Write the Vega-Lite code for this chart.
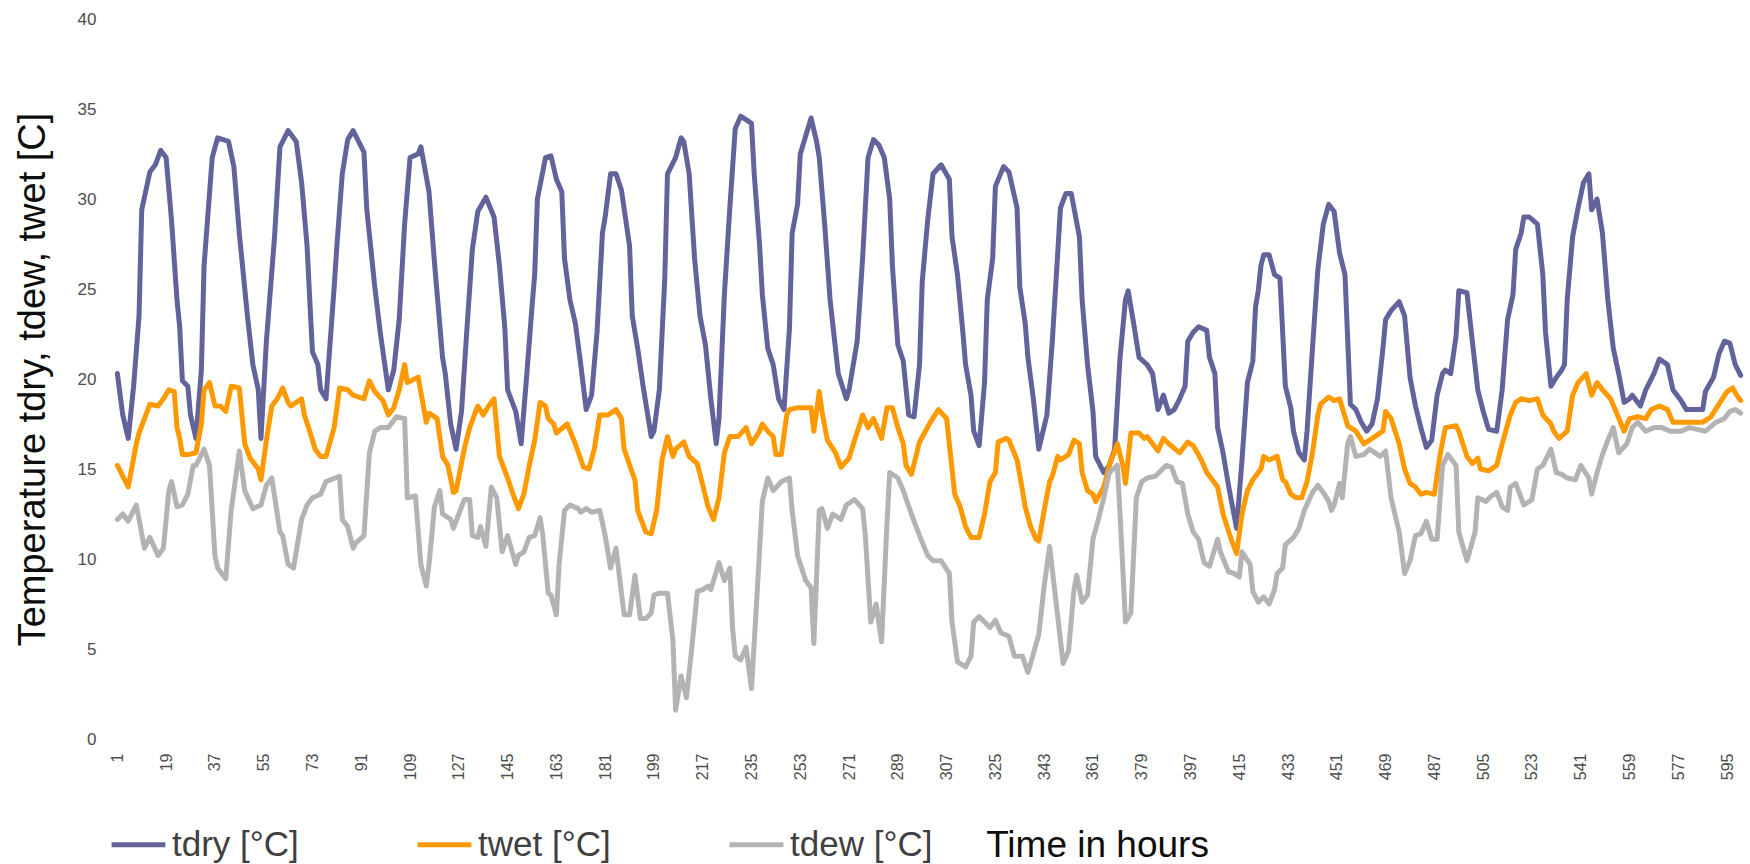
{
  "$schema": "https://vega.github.io/schema/vega-lite/v6.json",
  "width": 1626,
  "height": 720,
  "autosize": {"type": "none"},
  "padding": {"left": 116, "top": 19, "right": 8, "bottom": 125},
  "background": "white",
  "config": {
    "view": {"stroke": null},
    "font": "Liberation Sans"
  },
  "datasets": {
    "tdry": [
      {"h":1,"v":20.3},{"h":3,"v":18.0},{"h":5,"v":16.7},{"h":7,"v":19.6},{"h":9,"v":23.5},{"h":10,"v":29.4},{"h":13,"v":31.5},{"h":15,"v":31.9},{"h":17,"v":32.7},{"h":19,"v":32.3},{"h":21,"v":28.8},{"h":23,"v":24.4},{"h":24,"v":22.9},{"h":25,"v":19.9},{"h":27,"v":19.6},{"h":28,"v":18.0},{"h":30,"v":16.7},{"h":32,"v":20.5},{"h":33,"v":26.3},{"h":36,"v":32.3},{"h":38,"v":33.4},{"h":42,"v":33.2},{"h":44,"v":31.8},{"h":46,"v":28.1},{"h":49,"v":23.5},{"h":51,"v":20.8},{"h":53,"v":19.4},{"h":54,"v":16.7},{"h":56,"v":22.1},{"h":59,"v":27.9},{"h":61,"v":32.9},{"h":64,"v":33.8},{"h":67,"v":33.2},{"h":69,"v":30.9},{"h":71,"v":27.4},
      {"h":72,"v":24.4},{"h":73,"v":21.5},{"h":75,"v":20.8},{"h":76,"v":19.4},{"h":78,"v":18.9},{"h":81,"v":25.1},{"h":82,"v":27.4},{"h":84,"v":31.4},{"h":86,"v":33.3},{"h":88,"v":33.8},{"h":92,"v":32.6},{"h":93,"v":29.5},{"h":96,"v":25.1},{"h":98,"v":22.6},{"h":101,"v":19.4},{"h":103,"v":20.5},{"h":105,"v":23.3},{"h":107,"v":28.6},{"h":109,"v":32.3},{"h":112,"v":32.5},{"h":113,"v":32.9},{"h":116,"v":30.4},{"h":118,"v":26.5},{"h":121,"v":21.2},{"h":122,"v":20.3},{"h":124,"v":17.5},{"h":126,"v":16.1},{"h":128,"v":18.2},{"h":130,"v":22.8},{"h":132,"v":27.2},{"h":134,"v":29.3},{"h":137,"v":30.1},{"h":140,"v":29.0},{"h":142,"v":26.3},{"h":144,"v":22.8},{"h":145,"v":19.4},{"h":148,"v":18.2},{"h":150,"v":16.4},
      {"h":152,"v":20.1},{"h":154,"v":24.0},{"h":155,"v":25.8},{"h":156,"v":30.0},{"h":159,"v":32.3},{"h":161,"v":32.4},{"h":163,"v":31.1},{"h":165,"v":30.4},{"h":166,"v":26.7},{"h":168,"v":24.4},{"h":170,"v":23.1},{"h":172,"v":20.8},{"h":174,"v":18.3},{"h":176,"v":19.1},{"h":178,"v":22.6},{"h":180,"v":28.1},{"h":181,"v":29.0},{"h":183,"v":31.4},{"h":185,"v":31.4},{"h":187,"v":30.5},{"h":190,"v":27.4},{"h":191,"v":23.5},{"h":193,"v":21.7},{"h":195,"v":19.6},{"h":198,"v":16.8},{"h":199,"v":17.1},{"h":201,"v":19.4},{"h":203,"v":25.6},{"h":204,"v":31.4},{"h":207,"v":32.3},{"h":209,"v":33.4},{"h":210,"v":33.2},{"h":212,"v":31.4},{"h":214,"v":26.7},{"h":216,"v":23.5},{"h":218,"v":21.9},{"h":220,"v":18.9},{"h":222,"v":16.4},{"h":223,"v":17.8},{"h":225,"v":24.7},
      {"h":227,"v":29.5},{"h":229,"v":33.9},{"h":231,"v":34.6},{"h":235,"v":34.2},{"h":236,"v":31.4},{"h":238,"v":27.4},{"h":239,"v":24.7},{"h":241,"v":21.7},{"h":243,"v":20.8},{"h":245,"v":18.9},{"h":247,"v":18.3},{"h":249,"v":22.8},{"h":250,"v":28.1},{"h":252,"v":29.7},{"h":253,"v":32.5},{"h":255,"v":33.5},{"h":257,"v":34.5},{"h":259,"v":33.2},{"h":260,"v":32.3},{"h":262,"v":28.6},{"h":264,"v":24.4},{"h":267,"v":20.3},{"h":270,"v":18.9},{"h":271,"v":19.4},{"h":274,"v":22.1},{"h":276,"v":26.7},{"h":278,"v":32.3},{"h":280,"v":33.3},{"h":282,"v":33.0},{"h":284,"v":32.3},{"h":286,"v":30.0},{"h":287,"v":26.3},{"h":289,"v":21.9},{"h":291,"v":21.0},{"h":293,"v":18.0},{"h":295,"v":17.9},{"h":297,"v":20.8},{"h":298,"v":25.4},{"h":300,"v":28.8},{"h":302,"v":31.4},{"h":305,"v":31.9},
      {"h":308,"v":31.1},{"h":309,"v":27.9},{"h":311,"v":25.8},{"h":313,"v":22.6},{"h":314,"v":20.8},{"h":316,"v":19.1},{"h":317,"v":17.1},{"h":319,"v":16.3},{"h":321,"v":19.8},{"h":322,"v":24.4},{"h":324,"v":26.7},{"h":325,"v":30.7},{"h":328,"v":31.8},{"h":330,"v":31.5},{"h":333,"v":29.5},{"h":334,"v":25.1},{"h":336,"v":23.1},{"h":337,"v":21.2},{"h":339,"v":18.9},{"h":341,"v":16.1},{"h":344,"v":18.0},{"h":346,"v":22.1},{"h":348,"v":27.0},{"h":349,"v":29.5},{"h":351,"v":30.3},{"h":353,"v":30.3},{"h":356,"v":27.9},{"h":357,"v":24.4},{"h":359,"v":20.8},{"h":361,"v":18.2},{"h":362,"v":15.7},{"h":365,"v":14.8},{"h":367,"v":15.2},{"h":369,"v":16.1},{"h":371,"v":21.2},{"h":373,"v":24.4},{"h":374,"v":24.9},{"h":376,"v":23.1},{"h":378,"v":21.2},{"h":381,"v":20.8},
      {"h":383,"v":20.3},{"h":385,"v":18.3},{"h":387,"v":19.1},{"h":389,"v":18.1},{"h":391,"v":18.3},{"h":393,"v":18.9},{"h":395,"v":19.6},{"h":396,"v":22.1},{"h":398,"v":22.6},{"h":400,"v":22.9},{"h":403,"v":22.7},{"h":404,"v":21.2},{"h":406,"v":20.3},{"h":407,"v":17.3},{"h":409,"v":15.9},{"h":411,"v":14.1},{"h":413,"v":12.5},{"h":414,"v":11.7},{"h":416,"v":15.5},{"h":418,"v":19.8},{"h":420,"v":21.0},{"h":421,"v":24.0},{"h":422,"v":24.9},{"h":423,"v":26.3},{"h":424,"v":26.9},{"h":426,"v":26.9},{"h":428,"v":25.8},{"h":430,"v":25.6},{"h":432,"v":19.6},{"h":434,"v":18.4},{"h":435,"v":17.1},{"h":437,"v":15.9},{"h":439,"v":15.5},{"h":440,"v":17.1},{"h":442,"v":21.7},{"h":444,"v":26.1},{"h":446,"v":28.6},{"h":448,"v":29.7},{"h":450,"v":29.3},{"h":452,"v":27.0},{"h":454,"v":25.8},{"h":456,"v":18.6},{"h":458,"v":18.3},
      {"h":460,"v":17.6},{"h":462,"v":17.1},{"h":464,"v":17.5},{"h":466,"v":18.9},{"h":468,"v":21.7},{"h":469,"v":23.3},{"h":471,"v":23.8},{"h":474,"v":24.3},{"h":476,"v":23.5},{"h":478,"v":20.1},{"h":480,"v":18.5},{"h":482,"v":17.3},{"h":484,"v":16.2},{"h":486,"v":16.6},{"h":488,"v":19.1},{"h":490,"v":20.3},{"h":491,"v":20.5},{"h":493,"v":20.3},{"h":495,"v":22.4},{"h":496,"v":24.9},{"h":499,"v":24.8},{"h":501,"v":22.1},{"h":503,"v":19.4},{"h":505,"v":18.2},{"h":507,"v":17.2},{"h":510,"v":17.1},{"h":512,"v":19.4},{"h":514,"v":23.3},{"h":516,"v":24.7},{"h":517,"v":27.2},{"h":519,"v":28.1},{"h":520,"v":29.0},{"h":522,"v":29.0},{"h":525,"v":28.6},{"h":527,"v":25.8},{"h":528,"v":22.6},{"h":530,"v":19.6},{"h":532,"v":20.1},
      {"h":534,"v":20.5},{"h":535,"v":20.8},{"h":536,"v":24.4},{"h":538,"v":27.9},{"h":540,"v":29.5},{"h":542,"v":30.9},{"h":544,"v":31.4},{"h":545,"v":29.4},{"h":547,"v":30.0},{"h":549,"v":28.1},{"h":551,"v":24.4},{"h":553,"v":21.7},{"h":555,"v":20.3},{"h":557,"v":18.7},{"h":559,"v":18.9},{"h":560,"v":19.1},{"h":563,"v":18.5},{"h":565,"v":19.4},{"h":568,"v":20.3},{"h":570,"v":21.1},{"h":573,"v":20.8},{"h":575,"v":19.4},{"h":578,"v":18.8},{"h":580,"v":18.3},{"h":586,"v":18.3},{"h":587,"v":19.3},{"h":590,"v":20.1},{"h":592,"v":21.4},{"h":594,"v":22.1},{"h":596,"v":22.0},{"h":598,"v":20.8},{"h":600,"v":20.2}
    ],
    "twet": [
      {"h":1,"v":15.2},{"h":3,"v":14.6},{"h":5,"v":14.0},{"h":8,"v":16.4},{"h":9,"v":17.0},{"h":11,"v":17.8},{"h":13,"v":18.6},{"h":16,"v":18.5},{"h":18,"v":18.9},{"h":20,"v":19.4},{"h":22,"v":19.3},{"h":23,"v":17.3},{"h":24,"v":16.7},{"h":25,"v":15.8},{"h":27,"v":15.8},{"h":30,"v":15.9},{"h":32,"v":17.5},{"h":33,"v":19.4},{"h":35,"v":19.8},{"h":37,"v":18.5},{"h":39,"v":18.5},{"h":41,"v":18.2},{"h":43,"v":19.6},{"h":46,"v":19.5},{"h":48,"v":16.4},{"h":50,"v":15.6},{"h":53,"v":15.0},{"h":54,"v":14.4},{"h":56,"v":16.6},{"h":58,"v":18.5},{"h":60,"v":18.9},{"h":62,"v":19.5},{"h":64,"v":18.7},{"h":65,"v":18.5},{"h":69,"v":18.9},{"h":70,"v":18.0},
      {"h":72,"v":17.1},{"h":74,"v":16.1},{"h":76,"v":15.7},{"h":78,"v":15.7},{"h":81,"v":17.3},{"h":83,"v":19.5},{"h":86,"v":19.4},{"h":88,"v":19.1},{"h":92,"v":18.9},{"h":94,"v":19.9},{"h":96,"v":19.3},{"h":99,"v":18.8},{"h":101,"v":18.0},{"h":103,"v":18.4},{"h":105,"v":19.4},{"h":107,"v":20.8},{"h":108,"v":19.8},{"h":112,"v":20.1},{"h":115,"v":17.6},{"h":116,"v":18.1},{"h":119,"v":17.8},{"h":121,"v":15.7},{"h":123,"v":15.2},{"h":125,"v":13.7},{"h":126,"v":13.8},{"h":129,"v":16.1},{"h":131,"v":17.3},{"h":134,"v":18.5},{"h":136,"v":18.0},{"h":138,"v":18.5},{"h":140,"v":18.9},{"h":142,"v":15.7},{"h":145,"v":14.5},{"h":147,"v":13.6},{"h":149,"v":12.8},
      {"h":151,"v":13.6},{"h":153,"v":15.2},{"h":155,"v":16.6},{"h":157,"v":18.7},{"h":159,"v":18.5},{"h":160,"v":17.8},{"h":162,"v":17.5},{"h":163,"v":17.0},{"h":167,"v":17.5},{"h":170,"v":16.4},{"h":173,"v":15.1},{"h":175,"v":15.0},{"h":177,"v":16.1},{"h":179,"v":18.0},{"h":182,"v":18.0},{"h":185,"v":18.3},{"h":187,"v":17.8},{"h":188,"v":16.1},{"h":191,"v":14.8},{"h":192,"v":14.4},{"h":193,"v":12.7},{"h":196,"v":11.5},{"h":198,"v":11.4},{"h":200,"v":12.7},{"h":202,"v":15.5},{"h":204,"v":16.8},{"h":206,"v":15.7},{"h":207,"v":16.1},{"h":210,"v":16.5},{"h":212,"v":15.7},{"h":215,"v":15.3},{"h":217,"v":14.1},{"h":219,"v":12.9},{"h":221,"v":12.2},{"h":223,"v":13.4},{"h":225,"v":15.9},{"h":227,"v":16.8},
      {"h":230,"v":16.8},{"h":233,"v":17.3},{"h":235,"v":16.4},{"h":238,"v":17.1},{"h":239,"v":17.5},{"h":241,"v":17.1},{"h":243,"v":16.8},{"h":244,"v":15.8},{"h":246,"v":15.8},{"h":248,"v":18.0},{"h":249,"v":18.3},{"h":252,"v":18.4},{"h":255,"v":18.4},{"h":257,"v":18.4},{"h":258,"v":17.1},{"h":260,"v":19.3},{"h":261,"v":18.2},{"h":263,"v":16.6},{"h":266,"v":15.9},{"h":268,"v":15.1},{"h":271,"v":15.6},{"h":273,"v":16.6},{"h":275,"v":17.5},{"h":276,"v":18.0},{"h":278,"v":17.3},{"h":280,"v":17.8},{"h":283,"v":16.7},{"h":285,"v":18.4},{"h":287,"v":18.4},{"h":289,"v":17.3},{"h":291,"v":16.4},{"h":292,"v":15.2},{"h":294,"v":14.7},{"h":297,"v":16.5},{"h":301,"v":17.6},{"h":304,"v":18.3},
      {"h":307,"v":17.8},{"h":310,"v":13.6},{"h":312,"v":12.9},{"h":314,"v":11.8},{"h":316,"v":11.2},{"h":319,"v":11.2},{"h":321,"v":12.5},{"h":323,"v":14.3},{"h":325,"v":14.8},{"h":326,"v":16.5},{"h":329,"v":16.7},{"h":330,"v":16.6},{"h":333,"v":15.5},{"h":335,"v":13.8},{"h":336,"v":12.9},{"h":338,"v":11.8},{"h":340,"v":11.1},{"h":341,"v":11.0},{"h":343,"v":12.7},{"h":345,"v":14.3},{"h":346,"v":14.6},{"h":348,"v":15.7},{"h":349,"v":15.5},{"h":352,"v":15.8},{"h":354,"v":16.6},{"h":356,"v":16.4},{"h":357,"v":14.8},{"h":359,"v":13.8},{"h":361,"v":13.6},{"h":362,"v":13.2},{"h":365,"v":14.0},{"h":367,"v":15.2},{"h":370,"v":16.4},{"h":372,"v":15.2},{"h":373,"v":14.2},{"h":375,"v":17.0},{"h":378,"v":17.0},{"h":380,"v":16.7},{"h":381,"v":16.8},
      {"h":383,"v":16.4},{"h":385,"v":16.0},{"h":387,"v":16.7},{"h":389,"v":16.4},{"h":393,"v":15.9},{"h":396,"v":16.5},{"h":398,"v":16.3},{"h":401,"v":15.5},{"h":403,"v":14.8},{"h":407,"v":14.0},{"h":409,"v":12.5},{"h":412,"v":11.1},{"h":414,"v":10.3},{"h":416,"v":12.5},{"h":418,"v":13.8},{"h":420,"v":14.4},{"h":423,"v":15.0},{"h":424,"v":15.7},{"h":426,"v":15.5},{"h":429,"v":15.7},{"h":431,"v":14.4},{"h":432,"v":14.3},{"h":434,"v":13.6},{"h":436,"v":13.4},{"h":438,"v":13.4},{"h":440,"v":14.3},{"h":442,"v":15.9},{"h":444,"v":18.0},{"h":445,"v":18.6},{"h":448,"v":19.0},{"h":450,"v":18.8},{"h":452,"v":18.9},{"h":455,"v":17.4},{"h":456,"v":17.3},{"h":458,"v":17.1},
      {"h":461,"v":16.4},{"h":464,"v":16.7},{"h":468,"v":17.1},{"h":469,"v":18.2},{"h":471,"v":17.8},{"h":474,"v":16.4},{"h":476,"v":15.0},{"h":478,"v":14.2},{"h":480,"v":14.0},{"h":482,"v":13.6},{"h":484,"v":13.7},{"h":487,"v":13.6},{"h":489,"v":15.7},{"h":491,"v":17.3},{"h":495,"v":17.4},{"h":496,"v":17.1},{"h":499,"v":15.7},{"h":501,"v":15.3},{"h":503,"v":15.6},{"h":504,"v":15.0},{"h":507,"v":14.9},{"h":510,"v":15.2},{"h":512,"v":16.4},{"h":515,"v":18.0},{"h":517,"v":18.7},{"h":519,"v":18.9},{"h":522,"v":18.8},{"h":525,"v":18.9},{"h":527,"v":18.0},{"h":530,"v":17.5},{"h":531,"v":17.1},
      {"h":533,"v":16.7},{"h":536,"v":17.1},{"h":538,"v":19.1},{"h":540,"v":19.8},{"h":543,"v":20.3},{"h":545,"v":19.1},{"h":547,"v":19.8},{"h":549,"v":19.4},{"h":552,"v":18.9},{"h":554,"v":18.2},{"h":557,"v":17.1},{"h":559,"v":17.8},{"h":562,"v":17.9},{"h":565,"v":17.8},{"h":567,"v":18.3},{"h":570,"v":18.5},{"h":573,"v":18.3},{"h":575,"v":17.6},{"h":578,"v":17.6},{"h":581,"v":17.6},{"h":586,"v":17.6},{"h":589,"v":17.9},{"h":592,"v":18.6},{"h":595,"v":19.3},{"h":597,"v":19.5},{"h":599,"v":19.0},{"h":600,"v":18.8}
    ],
    "tdew": [
      {"h":1,"v":12.2},{"h":3,"v":12.5},{"h":5,"v":12.1},{"h":8,"v":13.0},{"h":9,"v":12.2},{"h":11,"v":10.6},{"h":13,"v":11.2},{"h":16,"v":10.2},{"h":18,"v":10.6},{"h":20,"v":13.8},{"h":21,"v":14.3},{"h":23,"v":12.9},{"h":25,"v":13.0},{"h":27,"v":13.6},{"h":29,"v":15.2},{"h":30,"v":15.2},{"h":33,"v":16.1},{"h":35,"v":15.2},{"h":37,"v":10.2},{"h":38,"v":9.5},{"h":41,"v":8.9},{"h":43,"v":12.7},{"h":46,"v":16.0},{"h":48,"v":13.8},{"h":51,"v":12.8},{"h":54,"v":13.0},{"h":56,"v":14.1},{"h":58,"v":14.5},{"h":61,"v":11.5},{"h":62,"v":11.3},{"h":64,"v":9.7},{"h":66,"v":9.5},{"h":69,"v":12.2},{"h":71,"v":13.0},
      {"h":73,"v":13.4},{"h":76,"v":13.6},{"h":78,"v":14.3},{"h":83,"v":14.6},{"h":84,"v":12.2},{"h":86,"v":11.8},{"h":88,"v":10.6},{"h":89,"v":10.9},{"h":92,"v":11.3},{"h":94,"v":15.9},{"h":96,"v":17.1},{"h":98,"v":17.3},{"h":101,"v":17.3},{"h":104,"v":17.9},{"h":107,"v":17.8},{"h":108,"v":13.4},{"h":111,"v":13.5},{"h":113,"v":9.7},{"h":115,"v":8.5},{"h":116,"v":9.7},{"h":118,"v":12.9},{"h":120,"v":13.8},{"h":121,"v":12.5},{"h":124,"v":12.2},{"h":125,"v":11.7},{"h":127,"v":12.5},{"h":129,"v":13.3},{"h":131,"v":13.3},{"h":132,"v":11.3},{"h":134,"v":11.2},{"h":135,"v":11.8},{"h":137,"v":10.7},{"h":139,"v":14.0},{"h":141,"v":13.4},{"h":143,"v":10.4},{"h":145,"v":11.3},{"h":148,"v":9.7},{"h":149,"v":10.2},
      {"h":151,"v":10.4},{"h":153,"v":11.2},{"h":155,"v":11.3},{"h":157,"v":12.3},{"h":158,"v":11.3},{"h":160,"v":8.1},{"h":161,"v":8.0},{"h":163,"v":6.9},{"h":164,"v":9.7},{"h":166,"v":12.7},{"h":168,"v":13.0},{"h":171,"v":12.8},{"h":172,"v":12.6},{"h":174,"v":12.8},{"h":176,"v":12.6},{"h":179,"v":12.7},{"h":181,"v":11.3},{"h":183,"v":9.5},{"h":185,"v":10.6},{"h":188,"v":6.9},{"h":190,"v":6.9},{"h":192,"v":9.1},{"h":194,"v":6.7},{"h":196,"v":6.7},{"h":198,"v":7.0},{"h":199,"v":8.0},{"h":201,"v":8.1},{"h":204,"v":8.1},{"h":206,"v":5.5},{"h":207,"v":1.6},{"h":209,"v":3.5},{"h":211,"v":2.3},{"h":213,"v":5.1},{"h":215,"v":8.2},{"h":217,"v":8.3},{"h":219,"v":8.5},{"h":220,"v":8.3},{"h":222,"v":9.3},{"h":223,"v":9.8},{"h":225,"v":8.8},{"h":227,"v":9.5},
      {"h":228,"v":6.2},{"h":229,"v":4.6},{"h":231,"v":4.4},{"h":233,"v":5.1},{"h":235,"v":2.8},{"h":237,"v":7.9},{"h":239,"v":13.2},{"h":241,"v":14.5},{"h":243,"v":13.8},{"h":246,"v":14.3},{"h":249,"v":14.5},{"h":250,"v":12.7},{"h":252,"v":10.2},{"h":255,"v":8.8},{"h":257,"v":8.4},{"h":258,"v":5.3},{"h":260,"v":12.7},{"h":261,"v":12.8},{"h":263,"v":11.7},{"h":265,"v":12.5},{"h":268,"v":12.2},{"h":270,"v":13.0},{"h":273,"v":13.3},{"h":276,"v":12.8},{"h":277,"v":11.3},{"h":279,"v":6.5},{"h":281,"v":7.5},{"h":283,"v":5.4},{"h":285,"v":12.0},{"h":286,"v":14.8},{"h":289,"v":14.5},{"h":291,"v":13.8},{"h":294,"v":12.5},{"h":297,"v":11.3},{"h":300,"v":10.2},{"h":302,"v":9.9},{"h":305,"v":9.9},
      {"h":308,"v":9.2},{"h":309,"v":6.5},{"h":311,"v":4.3},{"h":314,"v":4.0},{"h":316,"v":4.6},{"h":317,"v":6.5},{"h":319,"v":6.8},{"h":321,"v":6.5},{"h":323,"v":6.2},{"h":325,"v":6.6},{"h":327,"v":5.9},{"h":330,"v":5.7},{"h":332,"v":4.6},{"h":335,"v":4.6},{"h":337,"v":3.7},{"h":338,"v":4.2},{"h":341,"v":5.8},{"h":343,"v":8.5},{"h":345,"v":10.7},{"h":347,"v":8.1},{"h":350,"v":4.2},{"h":352,"v":4.9},{"h":354,"v":8.3},{"h":355,"v":9.1},{"h":357,"v":7.6},{"h":359,"v":8.0},{"h":361,"v":11.1},{"h":363,"v":12.2},{"h":365,"v":13.4},{"h":367,"v":14.8},{"h":370,"v":15.2},{"h":371,"v":12.5},{"h":373,"v":6.5},{"h":375,"v":7.0},{"h":377,"v":13.4},{"h":379,"v":14.3},{"h":381,"v":14.5},
      {"h":384,"v":14.6},{"h":388,"v":15.2},{"h":390,"v":15.1},{"h":392,"v":14.3},{"h":394,"v":14.2},{"h":396,"v":12.5},{"h":398,"v":11.5},{"h":400,"v":11.1},{"h":402,"v":9.8},{"h":404,"v":9.6},{"h":407,"v":11.1},{"h":408,"v":10.4},{"h":411,"v":9.3},{"h":413,"v":9.2},{"h":415,"v":9.0},{"h":416,"v":10.4},{"h":419,"v":9.7},{"h":420,"v":8.2},{"h":422,"v":7.6},{"h":424,"v":7.9},{"h":426,"v":7.5},{"h":428,"v":8.3},{"h":429,"v":9.2},{"h":431,"v":9.5},{"h":432,"v":10.8},{"h":435,"v":11.2},{"h":437,"v":11.7},{"h":439,"v":12.7},{"h":442,"v":13.7},{"h":444,"v":14.1},{"h":446,"v":13.7},{"h":448,"v":13.2},{"h":449,"v":12.7},{"h":450,"v":13.0},{"h":452,"v":14.2},{"h":453,"v":13.4},{"h":455,"v":16.4},{"h":456,"v":16.8},{"h":458,"v":15.7},
      {"h":461,"v":15.8},{"h":463,"v":16.1},{"h":467,"v":15.7},{"h":469,"v":16.0},{"h":471,"v":13.4},{"h":474,"v":11.5},{"h":476,"v":9.2},{"h":478,"v":9.9},{"h":480,"v":11.3},{"h":482,"v":11.4},{"h":484,"v":12.1},{"h":486,"v":11.1},{"h":488,"v":11.1},{"h":490,"v":15.2},{"h":492,"v":15.8},{"h":495,"v":15.2},{"h":496,"v":11.5},{"h":499,"v":9.9},{"h":502,"v":11.5},{"h":503,"v":13.4},{"h":506,"v":13.2},{"h":508,"v":13.5},{"h":510,"v":13.7},{"h":512,"v":12.9},{"h":514,"v":12.7},{"h":515,"v":14.0},{"h":517,"v":14.2},{"h":520,"v":13.0},{"h":523,"v":13.3},{"h":525,"v":15.0},{"h":527,"v":15.2},{"h":530,"v":16.1},{"h":532,"v":14.8},
      {"h":534,"v":14.7},{"h":536,"v":14.5},{"h":539,"v":14.4},{"h":541,"v":15.2},{"h":544,"v":14.5},{"h":545,"v":13.6},{"h":547,"v":14.8},{"h":549,"v":15.8},{"h":551,"v":16.6},{"h":553,"v":17.3},{"h":555,"v":15.9},{"h":558,"v":16.4},{"h":560,"v":17.3},{"h":562,"v":17.6},{"h":565,"v":17.1},{"h":568,"v":17.3},{"h":571,"v":17.3},{"h":574,"v":17.1},{"h":578,"v":17.1},{"h":581,"v":17.3},{"h":584,"v":17.2},{"h":587,"v":17.1},{"h":591,"v":17.6},{"h":594,"v":17.8},{"h":596,"v":18.2},{"h":598,"v":18.3},{"h":600,"v":18.1}
    ]
  },
  "layer": [
    {
      "data": {"name": "tdry"},
      "mark": {"type": "line", "strokeWidth": 5, "strokeJoin": "round", "strokeCap": "round"},
      "encoding": {
        "x": {
          "field": "h", "type": "quantitative",
          "scale": {"domain": [0.5, 600.5], "nice": false, "zero": false},
          "axis": {
            "values": [1,19,37,55,73,91,109,127,145,163,181,199,217,235,253,271,289,307,325,343,361,379,397,415,433,451,469,487,505,523,541,559,577,595],
            "labelAngle": -90, "labelAlign": "right", "labelBaseline": "middle",
            "labelFontSize": 16, "labelColor": "#4d4d4d", "labelPadding": 14,
            "ticks": false, "domain": false, "grid": false,
            "title": "Time in hours", "titleFontSize": 37, "titleFontWeight": "normal", "titleColor": "#0d0d0d",
            "titleX": 981, "titleY": 106, "titleAlign": "center", "titleBaseline": "middle", "titleAnchor": null
          }
        },
        "y": {
          "field": "v", "type": "quantitative",
          "scale": {"domain": [0, 40], "nice": false},
          "axis": {
            "values": [0,5,10,15,20,25,30,35,40],
            "labelFontSize": 17, "labelColor": "#4d4d4d", "labelPadding": 20,
            "ticks": false, "domain": false, "grid": false,
            "title": "Temperature tdry, tdew, twet [C]", "titleFontSize": 38, "titleFontWeight": "normal", "titleColor": "#0d0d0d",
            "titleX": -83, "titleY": 360, "titleAngle": -90, "titleAlign": "center", "titleBaseline": "middle"
          }
        },
        "color": {
          "datum": "tdry [°C]",
          "scale": {"domain": ["tdry [°C]", "twet [°C]", "tdew [°C]"], "range": ["#62639B", "#FF9900", "#B3B3B3"]},
          "legend": {
            "orient": "none", "legendX": -7, "legendY": 796, "direction": "horizontal",
            "title": null, "symbolType": "stroke", "symbolSize": 2900, "symbolStrokeWidth": 5,
            "labelFontSize": 35, "labelColor": "#404040", "labelOffset": 4, "columnPadding": 108
          }
        }
      }
    },
    {
      "data": {"name": "twet"},
      "mark": {"type": "line", "strokeWidth": 5, "strokeJoin": "round", "strokeCap": "round"},
      "encoding": {
        "x": {"field": "h", "type": "quantitative"},
        "y": {"field": "v", "type": "quantitative"},
        "color": {"datum": "twet [°C]"}
      }
    },
    {
      "data": {"name": "tdew"},
      "mark": {"type": "line", "strokeWidth": 5, "strokeJoin": "round", "strokeCap": "round"},
      "encoding": {
        "x": {"field": "h", "type": "quantitative"},
        "y": {"field": "v", "type": "quantitative"},
        "color": {"datum": "tdew [°C]"}
      }
    }
  ]
}
